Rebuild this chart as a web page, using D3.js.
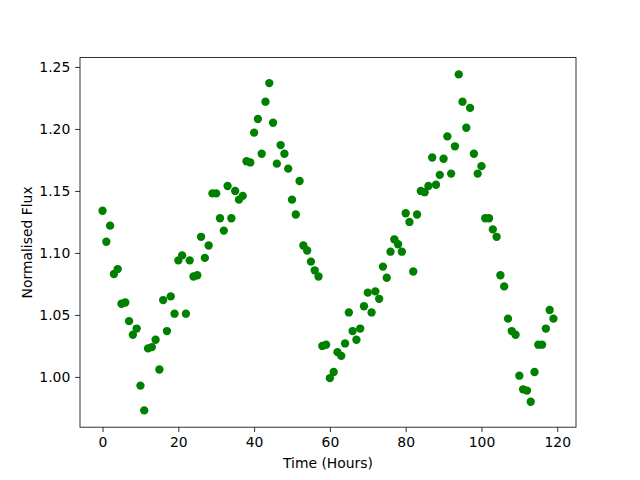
<!DOCTYPE html>
<html>
<head>
<meta charset="utf-8">
<script src="https://cdn.jsdelivr.net/npm/d3@7"></script>
<style>
  body { margin: 0; background: #fff; }
  svg text { font-family: "DejaVu Sans", sans-serif; fill: #000; }
</style>
</head>
<body>
<svg id="chart" width="640" height="480"></svg>
<script>
// hours 0..119
var hours = d3.range(0, 120);
var flux = [
  1.134, 1.109, 1.122, 1.083, 1.087, 1.059, 1.060, 1.045, 1.034, 1.039,
  0.993, 0.973, 1.023, 1.024, 1.030, 1.006, 1.062, 1.037, 1.065, 1.051,
  1.094, 1.098, 1.051, 1.094, 1.081, 1.082, 1.113, 1.096, 1.106, 1.148,
  1.148, 1.128, 1.118, 1.154, 1.128, 1.150, 1.143, 1.146, 1.174, 1.173,
  1.197, 1.208, 1.180, 1.222, 1.237, 1.205, 1.172, 1.187, 1.180, 1.168,
  1.143, 1.131, 1.158, 1.106, 1.102, 1.093, 1.086, 1.081, 1.025, 1.026,
  0.999, 1.004, 1.020, 1.017, 1.027, 1.052, 1.037, 1.030, 1.039, 1.057,
  1.068, 1.052, 1.069, 1.063, 1.089, 1.080, 1.101, 1.111, 1.107, 1.101,
  1.132, 1.125, 1.085, 1.131, 1.150, 1.149, 1.154, 1.177, 1.155, 1.163,
  1.176, 1.194, 1.164, 1.186, 1.244, 1.222, 1.201, 1.217, 1.180, 1.164,
  1.170, 1.128, 1.128, 1.119, 1.113, 1.082, 1.073, 1.047, 1.037, 1.034,
  1.001, 0.990, 0.989, 0.980, 1.004, 1.026, 1.026, 1.039, 1.054, 1.047
];
var xTicks = [0, 20, 40, 60, 80, 100, 120];
var yTicks = [1.00, 1.05, 1.10, 1.15, 1.20, 1.25];

var axLeft = 80, axRight = 576, axTop = 57.6, axBottom = 427.2;
var svg = d3.select("#chart");

// matplotlib style 5% margins
var xmin = d3.min(hours), xmax = d3.max(hours),
ymin = d3.min(flux), ymax = d3.max(flux),
xpad = (xmax - xmin) * 0.05, ypad = (ymax - ymin) * 0.05;

var x = d3.scaleLinear().domain([xmin - xpad, xmax + xpad]).range([axLeft, axRight]);
var y = d3.scaleLinear().domain([ymin - ypad, ymax + ypad]).range([axBottom, axTop]);

var tickLen = 4.86, fontPx = 13.9;

var xAxis = svg.append("g")
.attr("transform", "translate(0," + axBottom + ")")
.call(d3.axisBottom(x).tickValues(xTicks).tickSize(tickLen).tickPadding(4.86).tickFormat(d3.format("d")));
var yAxis = svg.append("g")
.attr("transform", "translate(" + axLeft + ",0)")
.call(d3.axisLeft(y).tickValues(yTicks).tickSize(tickLen).tickPadding(4.86).tickFormat(d3.format(".2f")));

[xAxis, yAxis].forEach(function (a) {
  a.select(".domain").remove();
  a.selectAll(".tick line").attr("stroke", "#000").attr("stroke-width", 0.8);
  a.selectAll(".tick text").attr("font-size", fontPx + "px").attr("font-family", "DejaVu Sans");
});

svg.append("g").selectAll("circle")
.data(hours)
.enter().append("circle")
.attr("cx", function (d) { return x(d); })
.attr("cy", function (d, i) { return y(flux[i]); })
.attr("r", 4.17)
.attr("fill", "#008000");

// frame
svg.append("rect")
.attr("x", axLeft).attr("y", axTop)
.attr("width", axRight - axLeft).attr("height", axBottom - axTop)
.attr("fill", "none").attr("stroke", "#000").attr("stroke-width", 0.8);

svg.append("text")
.attr("x", (axLeft + axRight) / 2).attr("y", 468)
.attr("text-anchor", "middle").attr("font-size", fontPx + "px")
.text("Time (Hours)");

svg.append("text")
.attr("transform", "translate(32," + (axTop + axBottom) / 2 + ")rotate(-90)")
.attr("text-anchor", "middle").attr("font-size", fontPx + "px")
.text("Normalised Flux");
</script>
</body>
</html>
